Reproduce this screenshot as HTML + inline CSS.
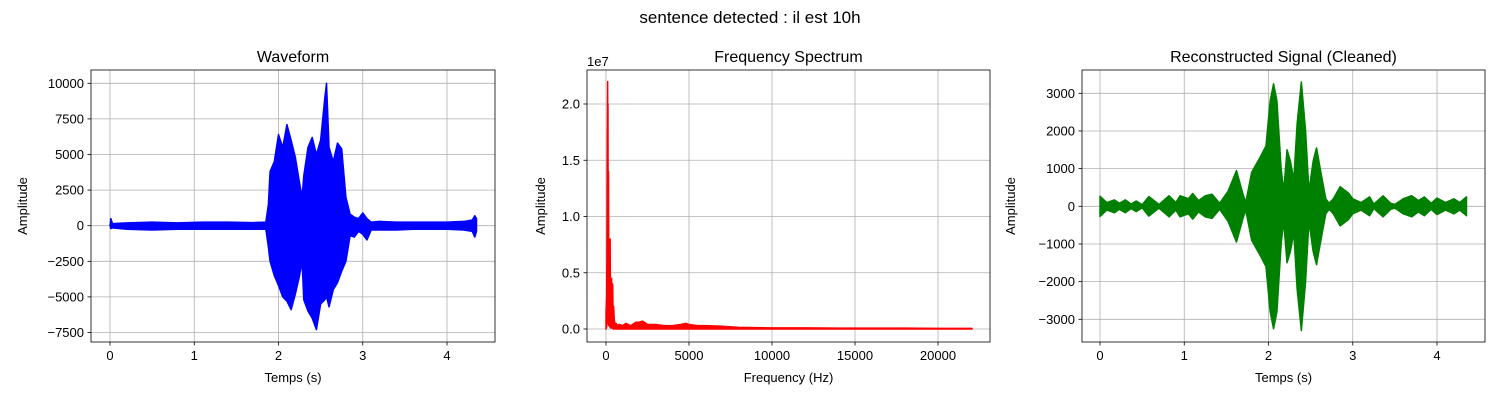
<!DOCTYPE html>
<html><head><meta charset="utf-8">
<style>
body{margin:0;background:#fff;}
svg{display:block;font-family:"Liberation Sans","DejaVu Sans",sans-serif;}
</style></head>
<body>
<svg id="fig" width="1500" height="400" viewBox="0 0 1500 400" xmlns="http://www.w3.org/2000/svg">
<rect width="1500" height="400" fill="#fff"/>
<text x="750" y="23" font-size="17" text-anchor="middle">sentence detected : il est 10h</text>
</svg>
<script>
// ---- Waveform data (envelope) ----
const waveTimes = [0,0.01,0.03,0.2,0.5,0.8,1.1,1.4,1.7,1.85,1.88,1.9,1.95,2.0,2.05,2.1,2.15,2.2,2.25,2.28,2.3,2.35,2.4,2.45,2.5,2.55,2.57,2.6,2.65,2.7,2.75,2.8,2.85,2.9,2.95,3.0,3.05,3.1,3.2,3.4,3.6,3.8,4.0,4.2,4.3,4.33,4.35];
const waveUpper = [0,500,150,200,250,200,250,250,220,250,1500,3800,4500,6400,5500,7100,6000,4800,3000,2000,3500,5500,6200,5000,6000,9000,10000,5500,4500,5800,5400,2000,800,600,500,900,500,250,300,250,250,250,250,300,400,700,500];
const waveLower = [0,-200,-150,-250,-300,-250,-250,-250,-250,-250,-1500,-2500,-3500,-4200,-5000,-5300,-5900,-4800,-3500,-2500,-5200,-6000,-6500,-7300,-5500,-5200,-5000,-5700,-4500,-4000,-3200,-2500,-700,-800,-400,-600,-1000,-300,-300,-300,-250,-250,-250,-300,-400,-800,-400];
const waveXTicks = [0,1,2,3,4];
const waveYTicks = [-7500,-5000,-2500,0,2500,5000,7500,10000];

// ---- Spectrum data ----
const specFreq = [0,40,60,80,100,110,120,130,150,170,190,210,230,250,270,290,310,340,370,400,430,460,500,550,600,700,800,1000,1200,1500,1800,2000,2200,2500,3000,3500,4000,4500,4800,5000,5500,6000,7000,8000,9000,10000,11000,12000,14000,16000,18000,20000,22050];
const specAmp = [0.15,0.3,0.8,1.7,2.2,1.2,2.0,0.6,1.4,0.4,0.3,0.5,0.35,0.8,0.2,0.3,0.15,0.45,0.1,0.4,0.1,0.2,0.08,0.04,0.05,0.03,0.04,0.03,0.05,0.03,0.06,0.06,0.07,0.04,0.04,0.03,0.03,0.04,0.05,0.04,0.03,0.03,0.025,0.015,0.012,0.01,0.01,0.01,0.008,0.008,0.008,0.006,0.006];
const specLow = [0,0.02,0.05,0.1,0.1,0.1,0.1,0.05,0.05,0.03,0.03,0.03,0.02,0.02,0.01,0.01,0.01,0.01,0.01,0.01,0,0,0,0,0,0,0,0,0,0,0,0,0,0,0,0,0,0,0,0,0,0,0,0,0,0,0,0,0,0,0,0,0];
const specXTicks = [0,5000,10000,15000,20000];
const specYTicks = [0,0.5,1.0,1.5,2.0];

// ---- Reconstructed data (symmetric envelope) ----
const recTimes = [0,0.08,0.17,0.23,0.3,0.37,0.43,0.5,0.58,0.7,0.82,0.9,0.95,1.05,1.1,1.17,1.25,1.33,1.42,1.52,1.62,1.7,1.73,1.8,1.9,1.97,2.02,2.06,2.1,2.15,2.18,2.22,2.26,2.3,2.34,2.39,2.44,2.48,2.53,2.57,2.63,2.68,2.72,2.77,2.85,2.95,3.0,3.05,3.1,3.2,3.25,3.36,3.45,3.5,3.6,3.7,3.78,3.85,3.93,4.0,4.1,4.2,4.27,4.35];
const recAmp = [270,100,170,80,170,60,140,40,260,50,280,100,280,200,340,150,280,320,80,400,950,300,100,900,1300,1600,2800,3250,2800,1000,400,1500,1200,700,2200,3300,2000,400,1200,1550,800,200,80,200,520,350,200,150,100,250,60,280,80,50,200,280,150,250,80,220,100,200,100,250];
const recXTicks = [0,1,2,3,4];
const recYTicks = [-3000,-2000,-1000,0,1000,2000,3000];

const NS="http://www.w3.org/2000/svg";
const svg=document.getElementById('fig');
function mk(tag,attrs,parent){const e=document.createElementNS(NS,tag);for(const k in attrs)e.setAttribute(k,attrs[k]);(parent||svg).appendChild(e);return e;}

function axes(o){
  const g=mk('g',{});
  
  
  const sx=v=>o.px0+(v-o.x0)/(o.x1-o.x0)*(o.px1-o.px0);
  const sy=v=>o.py0+(v-o.y0)/(o.y1-o.y0)*(o.py1-o.py0);
  o.xt.forEach(t=>{
    const l=mk('line',{x1:sx(t),x2:sx(t),y1:o.top,y2:o.bot,stroke:'#b0b0b0','stroke-width':0.8},g);
    
    
    mk('line',{x1:sx(t),x2:sx(t),y1:o.bot,y2:o.bot+3.5,stroke:'#000','stroke-width':0.8},g);
    const tx=mk('text',{x:sx(t),y:o.bot+18,'font-size':13,'text-anchor':'middle'},g);
    tx.textContent=o.xf?o.xf(t):t;
    
    
  });
  o.yt.forEach(t=>{
    const l=mk('line',{x1:o.left,x2:o.right,y1:sy(t),y2:sy(t),stroke:'#b0b0b0','stroke-width':0.8},g);
    
    
    mk('line',{x1:o.left-3.5,x2:o.left,y1:sy(t),y2:sy(t),stroke:'#000','stroke-width':0.8},g);
    const tx=mk('text',{x:o.left-7,y:sy(t)+4.5,'font-size':13,'text-anchor':'end'},g);
    tx.textContent=o.yf?o.yf(t):t;
    
    
  });
  o.draw(g,sx,sy);
  const fr=mk('rect',{x:o.left,y:o.top,width:o.right-o.left,height:o.bot-o.top,fill:'none',stroke:'#000','stroke-width':0.8},g);
  
  
  const ti=mk('text',{x:(o.left+o.right)/2,y:o.top-8,'font-size':16,'text-anchor':'middle'},g);
  ti.textContent=o.title;
  
  
  const xl=mk('text',{x:(o.left+o.right)/2,y:o.bot+40,'font-size':13,'text-anchor':'middle'},g);
  xl.textContent=o.xlabel;
  
  
  const yx=o.left-o.ylOff, yy=(o.top+o.bot)/2;
  const yl=mk('text',{x:yx,y:yy,'font-size':13,'text-anchor':'middle',transform:`rotate(-90 ${yx} ${yy})`},g);
  yl.textContent=o.ylabel;
  
  
}
function band(g,xs,up,lo,sx,sy,color,name){
  let d='M'+xs.map((t,i)=>sx(t)+','+sy(up[i])).join('L');
  for(let i=xs.length-1;i>=0;i--) d+='L'+sx(xs[i])+','+sy(lo[i]);
  d+='Z';
  const p=mk('path',{d:d,fill:color,stroke:color,'stroke-width':1.5,'stroke-linejoin':'round'},g);
  
  
}
const fmt=v=>v<0?'\u2212'+Math.abs(v):''+v;

axes({name:'waveform-axes',left:91,right:495,top:70,bot:342,x0:0,x1:4,px0:110,px1:447,y0:0,y1:10000,py0:225.7,py1:83.3,
  xt:waveXTicks,yt:waveYTicks,yf:fmt,title:'Waveform',xlabel:'Temps (s)',ylabel:'Amplitude',ylOff:64,
  draw:(g,sx,sy)=>band(g,waveTimes,waveUpper,waveLower,sx,sy,'#0000ff','waveform-series')});

axes({name:'spectrum-axes',left:587,right:990,top:70,bot:342,x0:0,x1:20000,px0:606,px1:938,y0:0,y1:2.0,py0:329,py1:104,
  xt:specXTicks,yt:specYTicks,yf:v=>v.toFixed(1),title:'Frequency Spectrum',xlabel:'Frequency (Hz)',ylabel:'Amplitude',ylOff:42,
  draw:(g,sx,sy)=>{band(g,specFreq,specAmp,specLow,sx,sy,'#ff0000','spectrum-series');
    const e=mk('text',{x:587,y:66,'font-size':13},g);e.textContent='1e7';
    
    }});

axes({name:'reconstructed-axes',left:1082,right:1485,top:70,bot:342,x0:0,x1:4,px0:1100,px1:1437,y0:0,y1:3000,py0:206.3,py1:93.3,
  xt:recXTicks,yt:recYTicks,yf:fmt,title:'Reconstructed Signal (Cleaned)',xlabel:'Temps (s)',ylabel:'Amplitude',ylOff:67,
  draw:(g,sx,sy)=>band(g,recTimes,recAmp,recAmp.map(v=>-v),sx,sy,'#008000','reconstructed-series')});
</script>
</body></html>
